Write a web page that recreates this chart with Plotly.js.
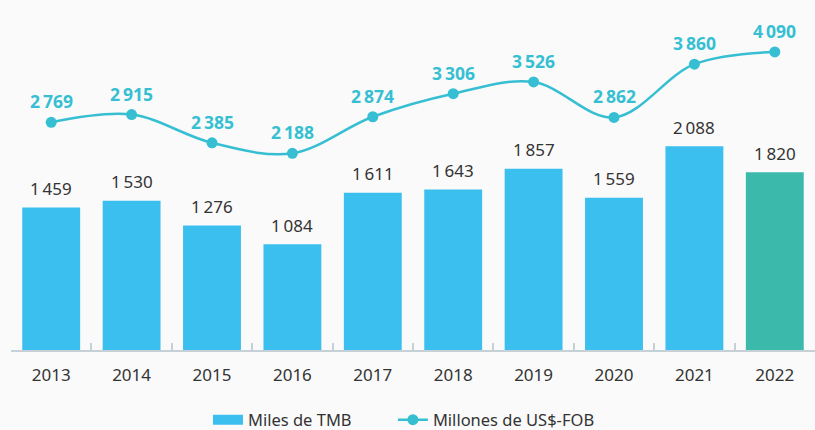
<!DOCTYPE html>
<html>
<head>
<meta charset="utf-8">
<script src="https://cdn.plot.ly/plotly-3.0.1.min.js"></script>
<style>
  html, body { margin: 0; padding: 0; background: #fafafa; }
  #chart { width: 815px; height: 430px; }
</style>
</head>
<body>
<div id="chart"></div>
<script>
// ---- data ----
const years = ["2013", "2014", "2015", "2016", "2017", "2018", "2019", "2020", "2021", "2022"];
const milesTMB = [1459, 1530, 1276, 1084, 1611, 1643, 1857, 1559, 2088, 1820];
const millonesUSD = [2769, 2915, 2385, 2188, 2874, 3306, 3526, 2862, 3860, 4090];
const barName = "Miles de TMB";
const lineName = "Millones de US$-FOB";

// ---- helpers ----
function fmt(v) {
  const s = String(v);
  if (s.length <= 3) return s;
  return s.slice(0, s.length - 3) + "\u2009" + s.slice(s.length - 3);
}

const FONT = "Noto Sans, Open Sans, sans-serif";
const BAR_BLUE = "#3bbfef";
const BAR_TEAL = "#3bb9ab";
const LINE_COL = "#36bfd2";
const TEXT_COL = "#333333";
const AXIS_COL = "#c5d1d6";

const barColors = years.map((y, i) => (i === years.length - 1 ? BAR_TEAL : BAR_BLUE));

const traces = [
  {
    type: "bar",
    name: barName,
    x: years,
    y: milesTMB,
    width: 0.72,
    marker: { color: barColors, line: { width: 0 } },
    yaxis: "y",
    showlegend: false,
    hoverinfo: "skip"
  },
  {
    // legend entry for the bars (wide swatch like the reference)
    type: "scatter",
    mode: "lines",
    name: barName,
    x: [null],
    y: [null],
    yaxis: "y",
    line: { color: BAR_BLUE, width: 13 },
    showlegend: true,
    legend: "legend",
    hoverinfo: "skip"
  },
  {
    type: "scatter",
    mode: "lines+markers",
    name: lineName,
    x: years,
    y: millonesUSD,
    yaxis: "y2",
    line: { color: LINE_COL, width: 2.5, shape: "spline", smoothing: 1 },
    marker: { color: LINE_COL, size: 11 },
    legend: "legend2",
    hoverinfo: "skip"
  }
];

const annotations = [];
years.forEach((yr, i) => {
  annotations.push({
    x: i, y: milesTMB[i], xref: "x", yref: "y",
    text: fmt(milesTMB[i]), showarrow: false,
    yanchor: "middle", yshift: 19,
    font: { family: FONT, size: 17, color: TEXT_COL }
  });
  annotations.push({
    x: i, y: millonesUSD[i], xref: "x", yref: "y2",
    text: "<b>" + fmt(millonesUSD[i]) + "</b>", showarrow: false,
    yanchor: "middle", yshift: 21,
    font: { family: FONT, size: 17.5, color: LINE_COL }
  });
});

const legendBase = {
  orientation: "h",
  xanchor: "left",
  y: -0.2, yanchor: "middle",
  font: { family: FONT, size: 16.5, color: TEXT_COL },
  bgcolor: "rgba(0,0,0,0)"
};

const layout = {
  width: 815,
  height: 430,
  margin: { l: 11, r: 0, t: 0, b: 80, autoexpand: false },
  paper_bgcolor: "#fafafa",
  plot_bgcolor: "#fafafa",
  font: { family: FONT, size: 16, color: TEXT_COL },
  showlegend: true,
  legend: Object.assign({}, legendBase, { x: 0.245 }),
  legend2: Object.assign({}, legendBase, { x: 0.475 }),
  xaxis: {
    type: "category",
    range: [-0.5, years.length - 0.5],
    autorange: false,
    showline: true,
    linecolor: AXIS_COL,
    linewidth: 1.5,
    ticks: "inside",
    tickson: "boundaries",
    ticklen: 7,
    tickwidth: 2,
    tickcolor: AXIS_COL,
    showgrid: false,
    zeroline: false,
    tickangle: 0,
    ticklabelstandoff: 9,
    tickfont: { family: FONT, size: 17, color: TEXT_COL },
    fixedrange: true
  },
  yaxis: {
    range: [0, 3585],
    autorange: false,
    visible: false,
    showgrid: false,
    zeroline: false,
    fixedrange: true
  },
  yaxis2: {
    range: [-1500, 5063],
    autorange: false,
    overlaying: "y",
    visible: false,
    showgrid: false,
    zeroline: false,
    fixedrange: true
  },
  annotations: annotations
};

Plotly.newPlot("chart", traces, layout, { displayModeBar: false, staticPlot: true });
</script>
</body>
</html>
